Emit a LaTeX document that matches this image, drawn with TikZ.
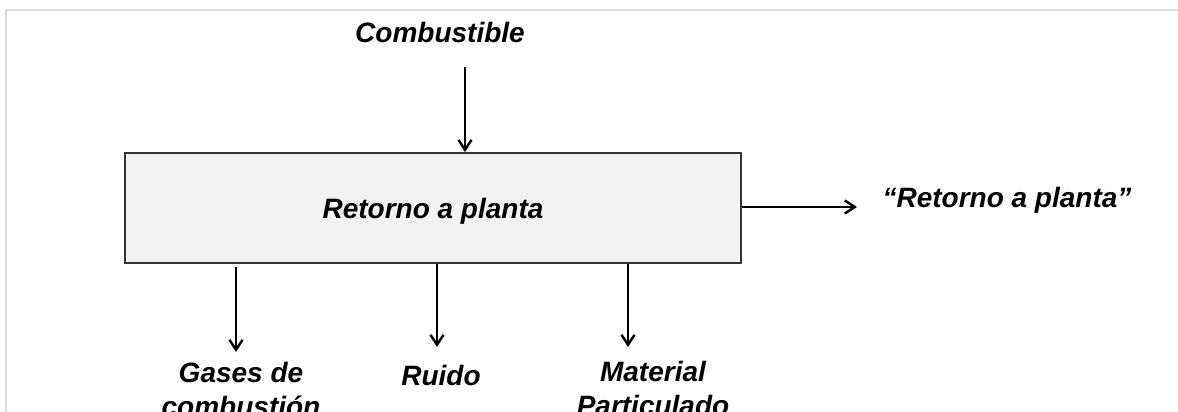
\documentclass[tikz,border=0pt]{standalone}
\usepackage{fontspec}
\setmainfont{Liberation Sans}
\usetikzlibrary{arrows.meta}
\begin{document}
\begin{tikzpicture}[x=0.5pt,y=-0.5pt,
  lbl/.style={font=\fontsize{14}{17}\selectfont\bfseries\itshape, inner sep=0pt, align=center},
  arr/.style={line width=1.1pt, -{Straight Barb[length=5pt,width=6.5pt,line width=1.2pt]}},
  frame/.style={draw=black!14, line width=1pt},
  procbox/.style={draw=black!80, line width=0.9pt, fill=black!5, minimum width=308pt, minimum height=55pt, inner sep=0pt, text height=13pt, text depth=3pt, font=\fontsize{14}{17}\selectfont\bfseries\itshape}]
\useasboundingbox (0,0) rectangle (1178,412);
\draw[frame] (6,412) -- (6,10) -- (1178,10);
\node[procbox] (box) at (433,208) {Retorno a planta};
% labels
\node[lbl, anchor=base] (comb) at (440,42) {Combustible};
\node[lbl, anchor=base] (ret) at (1007,207) {“Retorno a planta”};
\node[lbl, anchor=north] (gases) at (241,362) {Gases de\\combustión};
\node[lbl, anchor=base] (ruido) at (441,385) {Ruido};
\node[lbl, anchor=north] (mat) at (653,361) {Material\\Particulado};
% connector ends
\coordinate (cin) at (465,67);
\coordinate (rout) at (857,207);
\coordinate (g0) at (236,267);
\coordinate (g1) at (236,352);
\coordinate (r1) at (437,347);
\coordinate (m1) at (628,347);
% connectors
\draw[arr] (cin) -- (cin |- box.north);
\draw[arr] (box.east |- rout) -- (rout);
\draw[arr] (g0) -- (g1);
\draw[arr] (box.south -| r1) -- (r1);
\draw[arr] (box.south -| m1) -- (m1);
\end{tikzpicture}
\end{document}
